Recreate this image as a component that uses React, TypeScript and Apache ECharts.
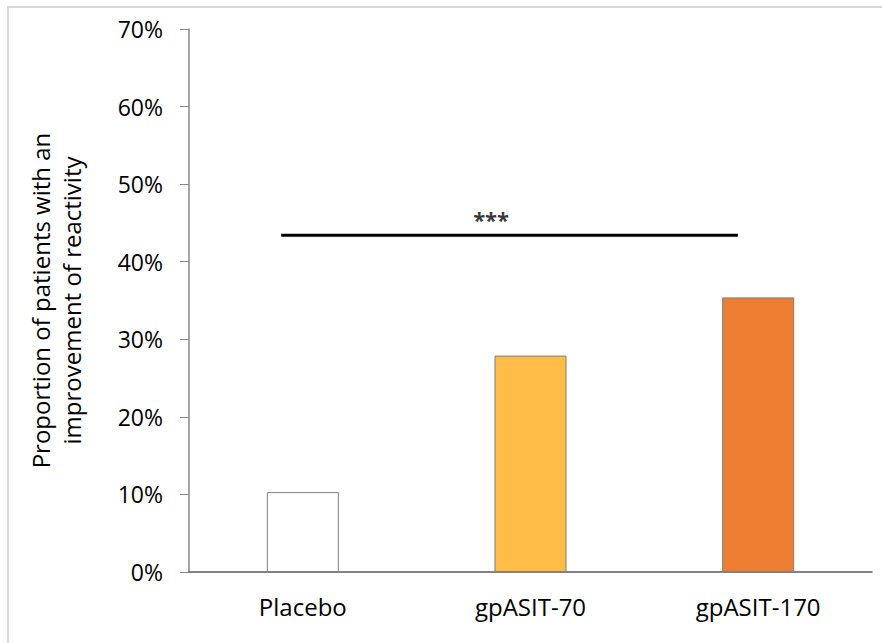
import React, { useEffect, useRef } from "react";
import * as echarts from "echarts";

const categories = ["Placebo", "gpASIT-70", "gpASIT-170"];
const values = [10.3, 27.9, 35.4];
const barColors = ["#FFFFFF", "#FFBC47", "#ED7D31"];
const yTicks = [0, 10, 20, 30, 40, 50, 60, 70];
const sigLineX = [0.405, 2.411];
const sigLineY = 43.4;
const sigLabel = "***";
const sigLabelPos = [1.327, 43.4];
const yAxisTitle = "Proportion of patients with an\nimprovement of reactivity";

const FONT = "'Open Sans', 'Noto Sans', sans-serif";

export default function App() {
  const ref = useRef<HTMLDivElement>(null);
  useEffect(() => {
    if (!ref.current) return;
    const chart = echarts.init(ref.current, undefined, { renderer: "svg" });
    chart.setOption({
      animation: false,
      backgroundColor: "#ffffff",
      grid: { left: 189, right: 10, top: 29, bottom: 71, containLabel: false },
      xAxis: [
        {
          type: "category",
          data: categories,
          axisLine: { show: true, lineStyle: { color: "#595959", width: 1.5 } },
          axisTick: { show: false },
          axisLabel: { color: "#000", fontSize: 24, fontFamily: FONT, margin: 22 },
          splitLine: { show: false },
        },
        {
          type: "value",
          min: 0,
          max: 3,
          show: false,
          position: "bottom",
        },
      ],
      yAxis: {
        type: "value",
        min: yTicks[0],
        max: yTicks[yTicks.length - 1],
        interval: 10,
        name: yAxisTitle,
        nameLocation: "middle",
        nameRotate: 90,
        nameGap: 102,
        nameTextStyle: { color: "#000", fontSize: 24, fontFamily: FONT, lineHeight: 31 },
        axisLine: { show: true, lineStyle: { color: "#868686", width: 1.5 } },
        axisTick: { show: true, inside: false, length: 9, lineStyle: { color: "#868686" } },
        axisLabel: {
          color: "#000",
          fontSize: 23,
          fontFamily: FONT,
          margin: 26,
          formatter: (v: number) => v + "%",
        },
        splitLine: { show: false },
      },
      series: [
        {
          type: "bar",
          xAxisIndex: 0,
          barWidth: 72,
          data: values.map((v, i) => ({
            value: v,
            itemStyle: { color: barColors[i], borderColor: "#7F7F7F", borderWidth: 1 },
          })),
        },
        {
          type: "line",
          xAxisIndex: 1,
          symbol: "none",
          lineStyle: { color: "#000", width: 3 },
          data: sigLineX.map((x) => [x, sigLineY]),
        },
        {
          type: "scatter",
          xAxisIndex: 1,
          symbolSize: 0,
          data: [sigLabelPos],
          label: {
            show: true,
            position: "top",
            distance: 5,
            formatter: sigLabel,
            color: "#000",
            fontSize: 22,
            fontWeight: "bold",
            fontFamily: FONT,
          },
        },
      ],
      graphic: [
        {
          type: "rect",
          shape: { x: 8, y: 7, width: 900, height: 700 },
          style: { fill: "none", stroke: "#D9D9D9", lineWidth: 2 },
          silent: true,
        },
      ],
    });
    return () => chart.dispose();
  }, []);
  return (
    <div
      ref={ref}
      style={{ position: "fixed", left: 0, top: 0, width: 882, height: 643, background: "#fff" }}
    />
  );
}
